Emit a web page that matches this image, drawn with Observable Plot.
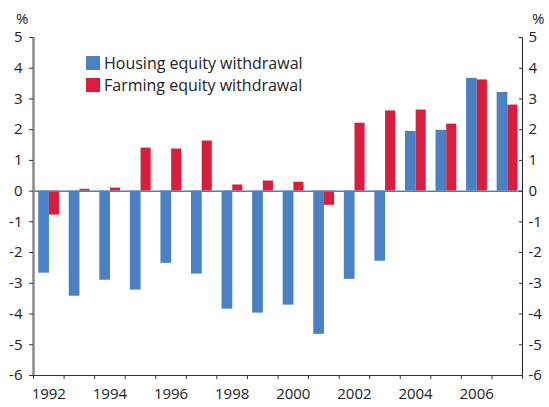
<!DOCTYPE html>
<html>
<head>
<meta charset="utf-8">
<script src="https://cdn.jsdelivr.net/npm/d3@7"></script>
<script src="https://cdn.jsdelivr.net/npm/@observablehq/plot@0.6"></script>
<style>
  html, body { margin: 0; padding: 0; background: #fff; }
  #wrap { position: relative; width: 549px; height: 407px; font-family: "Open Sans", sans-serif; color: #222; }
  #wrap svg { position: absolute; left: 0; top: 0; }
  .pct { position: absolute; top: 8px; font-size: 15px; }
  #legend { position: absolute; left: 86px; top: 52px; font-size: 16px; line-height: 22px; color: #222; }
  #legend .item { display: flex; align-items: center; white-space: nowrap; }
  #legend .sw { width: 14px; height: 14px; margin-right: 4px; display: inline-block; }
</style>
</head>
<body>
<div id="wrap"></div>
<script>
const years = [1992,1993,1994,1995,1996,1997,1998,1999,2000,2001,2002,2003,2004,2005,2006,2007];
const housing = [-2.67,-3.42,-2.90,-3.22,-2.35,-2.70,-3.84,-3.97,-3.71,-4.66,-2.87,-2.28,1.94,1.98,3.67,3.21];
const farming = [-0.78,0.06,0.10,1.40,1.37,1.63,0.20,0.33,0.29,-0.46,2.21,2.61,2.64,2.18,3.62,2.80];
const seriesNames = ["Housing equity withdrawal", "Farming equity withdrawal"];
const seriesColors = ["#4a80c4", "#da1d3c"];
const yTicks = [-6,-5,-4,-3,-2,-1,0,1,2,3,4,5];
const xLabelYears = [1992,1994,1996,1998,2000,2002,2004,2006];

const rows = [];
years.forEach((yr, i) => {
  rows.push({year: yr, series: seriesNames[0], value: housing[i], idx: 0});
  rows.push({year: yr, series: seriesNames[1], value: farming[i], idx: 1});
});
// bar placement inside each year slot (fraction of the year)
const slot = [[0.17, 0.52], [0.52, 0.85]];
const boundaries = years.concat([years[years.length - 1] + 1]);
const xDomain = [years[0], years[years.length - 1] + 1];
const fmt = d => String(d);

const chart = Plot.plot({
  width: 549,
  height: 407,
  marginLeft: 33,
  marginRight: 27,
  marginTop: 37,
  marginBottom: 32,
  style: {fontFamily: "Open Sans, sans-serif", fontSize: "15px", color: "#222", background: "transparent"},
  x: {domain: xDomain},
  y: {domain: [yTicks[0], yTicks[yTicks.length - 1]]},
  color: {domain: seriesNames, range: seriesColors},
  marks: [
    Plot.rectY(rows, {
      x1: d => d.year + slot[d.idx][0],
      x2: d => d.year + slot[d.idx][1],
      y1: 0,
      y2: "value",
      fill: "series"
    }),
    Plot.ruleY([0], {stroke: "#4d7fb8", strokeWidth: 1.5}),
    Plot.ruleY([yTicks[0]], {stroke: "#333", strokeWidth: 1}),
    Plot.ruleX([xDomain[0]], {stroke: "#8a8a8a", strokeWidth: 2.5}),
    Plot.ruleX([xDomain[1]], {stroke: "#222", strokeWidth: 1}),
    Plot.axisY(yTicks, {anchor: "left", tickSize: 4, tickPadding: 7, tickFormat: fmt, label: null, stroke: "#333", fontSize: 15}),
    Plot.axisY(yTicks, {anchor: "right", tickSize: -4, tickPadding: 10, tickFormat: fmt, label: null, stroke: "#333", fontSize: 15}),
    Plot.axisX(boundaries, {tickSize: 4, tickFormat: () => "", label: null, stroke: "#333"}),
    Plot.axisX(xLabelYears.map(y => y + 0.5), {tickSize: 0, tickPadding: 13, tickFormat: d => String(d - 0.5), label: null, fontSize: 15})
  ]
});

const wrap = document.getElementById("wrap");
wrap.appendChild(chart);

const pl = document.createElement("div");
pl.className = "pct"; pl.style.left = "16px"; pl.textContent = "%";
wrap.appendChild(pl);
const pr = document.createElement("div");
pr.className = "pct"; pr.style.left = "532px"; pr.textContent = "%";
wrap.appendChild(pr);

const legend = document.createElement("div");
legend.id = "legend";
seriesNames.forEach((name, i) => {
  const item = document.createElement("div");
  item.className = "item";
  const sw = document.createElement("span");
  sw.className = "sw"; sw.style.background = seriesColors[i];
  const t = document.createElement("span");
  t.textContent = name;
  item.appendChild(sw); item.appendChild(t);
  legend.appendChild(item);
});
wrap.appendChild(legend);
</script>
</body>
</html>
